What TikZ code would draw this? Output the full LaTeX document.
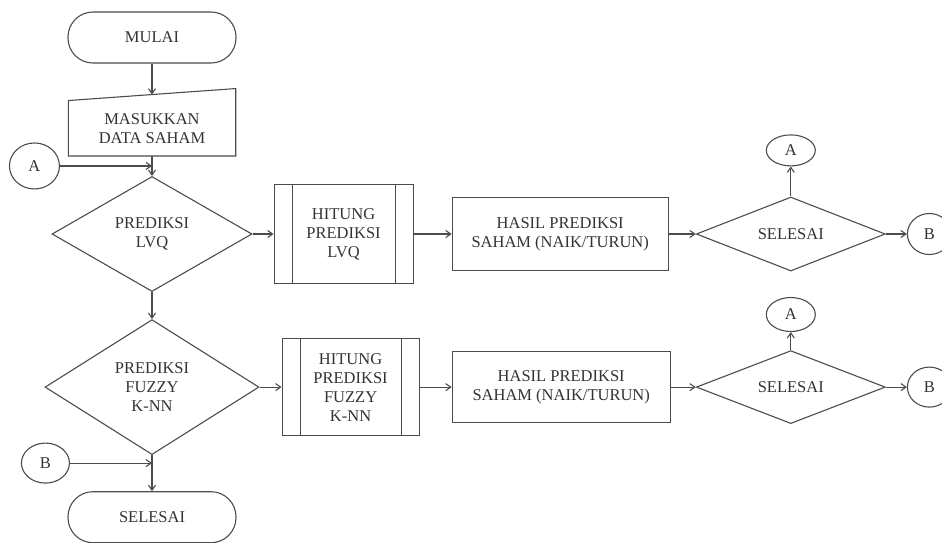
\documentclass[tikz,border=0pt]{standalone}
\usepackage{fontspec}
\setmainfont{Liberation Serif}
\usetikzlibrary{positioning, arrows.meta, shapes.geometric}

\begin{document}
\begin{tikzpicture}[
        x=1pt, y=-1pt,
        node distance=20pt and 20pt,
        every node/.style={font=\fontsize{16.5}{19}\selectfont, text=black!80},
        line/.style={draw=black!70, line width=1.1pt},
        terminal/.style={rectangle, line, rounded corners=25pt, minimum width=168pt, minimum height=51pt, inner sep=0pt},
        inputbox/.style={rectangle, minimum width=167pt, minimum height=55pt, inner sep=0pt, align=center},
        decision/.style={diamond, line, aspect=2, inner sep=0pt, align=center},
        proses/.style={rectangle, line, inner sep=0pt, align=center,
            path picture={\draw[black!70, line width=1.1pt]
                ([xshift=18pt]path picture bounding box.north west) -- ([xshift=18pt]path picture bounding box.south west)
                ([xshift=-18pt]path picture bounding box.north east) -- ([xshift=-18pt]path picture bounding box.south east);}},
        hasil/.style={rectangle, line, inner sep=0pt, align=center},
        konektor/.style={ellipse, line, inner sep=0pt},
        arrow/.style={line, -{Straight Barb[length=5pt, width=7pt]}}
    ]
        \useasboundingbox (0,0) rectangle (942,542);

        \node[terminal] (mulai) at (152,37.5) {MULAI};
        \node[inputbox, below=37pt of mulai] (input) {MASUKKAN\\DATA SAHAM};
        \draw[line] (input.south west) -- (input.south east) -- ([yshift=12pt]input.north east) -- (input.north west) -- cycle;
        \node[decision, minimum width=200pt, minimum height=115pt, below=20pt of input] (lvq) {PREDIKSI\\LVQ};
        \node[decision, minimum width=214pt, minimum height=135pt, below=27pt of lvq] (fuzzy) {PREDIKSI\\FUZZY\\K-NN};
        \node[terminal, below=36pt of fuzzy] (selesai) {SELESAI};

        % baris LVQ
        \node[proses, minimum width=139pt, minimum height=99pt, right=21pt of lvq] (hitunglvq) {HITUNG\\PREDIKSI\\LVQ};
        \node[hasil, minimum width=216pt, minimum height=73pt, right=38pt of hitunglvq] (hasillvq) {HASIL PREDIKSI\\SAHAM (NAIK/TURUN)};
        \node[decision, minimum width=189pt, minimum height=74pt, right=27pt of hasillvq] (cek1) {SELESAI};
        \node[konektor, minimum width=49pt, minimum height=31pt, above=30pt of cek1] (a1) {A};
        \node[konektor, minimum width=44pt, minimum height=41pt, right=21pt of cek1] (b1) {B};

        % baris Fuzzy K-NN
        \node[proses, minimum width=137pt, minimum height=97pt, right=22pt of fuzzy] (hitungknn) {HITUNG\\PREDIKSI\\FUZZY\\K-NN};
        \node[hasil, minimum width=218pt, minimum height=71pt, right=32pt of hitungknn] (hasilknn) {HASIL PREDIKSI\\SAHAM (NAIK/TURUN)};
        \node[decision, minimum width=189pt, minimum height=73pt, right=25pt of hasilknn] (cek2) {SELESAI};
        \node[konektor, minimum width=49pt, minimum height=34pt, above=18pt of cek2] (a2) {A};
        \node[konektor, minimum width=44pt, minimum height=40pt, right=21pt of cek2] (b2) {B};

        % konektor kiri
        \path (input.south) -- coordinate[pos=0.5] (j1) (lvq.north);
        \node[konektor, minimum width=50pt, minimum height=46pt, left=92pt of j1] (a0) {A};
        \path (fuzzy.south) -- coordinate[pos=0.22] (j2) (selesai.north);
        \node[konektor, minimum width=48pt, minimum height=40pt, left=82pt of j2] (b0) {B};

        \draw[arrow] (mulai) -- ([yshift=6pt]input.north);
        \draw[arrow] (input) -- (lvq);
        \draw[arrow] (a0) -- (j1);
        \draw[arrow] (lvq) -- (fuzzy);
        \draw[arrow] (lvq) -- (hitunglvq);
        \draw[arrow] (hitunglvq) -- (hasillvq);
        \draw[arrow] (hasillvq) -- (cek1);
        \draw[arrow] (cek1) -- (a1);
        \draw[arrow] (cek1) -- (b1);
        \draw[arrow] (fuzzy) -- (hitungknn);
        \draw[arrow] (hitungknn) -- (hasilknn);
        \draw[arrow] (hasilknn) -- (cek2);
        \draw[arrow] (cek2) -- (a2);
        \draw[arrow] (cek2) -- (b2);
        \draw[arrow] (fuzzy) -- (selesai);
        \draw[arrow] (b0) -- (j2);
    \end{tikzpicture}
\end{document}
